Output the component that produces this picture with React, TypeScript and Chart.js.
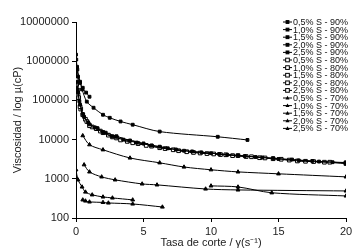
import React, { useEffect, useRef } from "react";
import { Chart, registerables } from "chart.js";

Chart.register(...registerables);

const seriesLabels = [
  "0,5% S - 90%", "1,0% S - 90%", "1,5% S - 90%", "2,0% S - 90%", "2,5% S - 90%",
  "0,5% S - 80%", "1,0% S - 80%", "1,5% S - 80%", "2,0% S - 80%", "2,5% S - 80%",
  "0,5% S - 70%", "1,0% S - 70%", "1,5% S - 70%", "2,0% S - 70%", "2,5% S - 70%",
];

// shear rate (x) and viscosity (y) per series
const s90_05x = [0, 0.02, 0.08, 0.15, 0.3, 0.5, 0.75, 1.0];
const s90_05y = [1470000, 1100000, 720000, 405000, 280000, 210000, 158000, 124000];

const s90_10x = [0.1, 0.3, 0.45, 0.8, 1.3, 2.0, 2.5, 3.3, 4.2, 6.2, 10.5, 12.7];
const s90_10y = [610000, 300000, 190000, 93000, 65000, 43000, 36000, 29000, 24000, 16000, 11800, 9800];

const s90_15x = [0.05, 0.15, 0.3, 0.6, 1.0, 1.6, 2.2, 3.0, 4.0, 5.0, 6.2, 7.4, 8.6, 10.0, 11.2, 12.5, 13.8, 15.0, 16.5, 18.0, 20.0];
const s90_15y = [300000, 160000, 78000, 38000, 24500, 19500, 15000, 12200, 9500, 8000, 6600, 5600, 5000, 4500, 4100, 3800, 3500, 3200, 2950, 2750, 2600];

const s90_20x = [0.1, 0.25, 0.5, 0.9, 1.4, 2.0, 2.7, 3.5, 4.5, 5.6, 6.8, 8.0, 9.3, 10.6, 12.0, 13.3, 14.6, 16.0, 17.5, 19.0, 20.0];
const s90_20y = [190000, 95000, 45000, 27500, 20500, 15500, 12000, 10000, 8400, 7100, 6000, 5200, 4700, 4300, 3950, 3600, 3350, 3100, 2850, 2650, 2500];

const s90_25x: number[] = [];
const s90_25y: number[] = [];

const s80_05x = [0.02, 0.1, 0.2, 0.3, 0.5, 0.8, 1.0, 1.5, 2.0, 2.7, 3.3, 4.2, 5.2, 6.2, 7.2, 8.2, 9.2, 10.2, 11.1, 12.0, 13.0, 14.0, 15.2, 16.4, 17.6, 18.8, 20.0];
const s80_05y = [340000, 186000, 117000, 69000, 43000, 29000, 22600, 19000, 15000, 11700, 9800, 8300, 7100, 6200, 5500, 4900, 4550, 4300, 4100, 3900, 3650, 3400, 3150, 2850, 2750, 2650, 2560];

const s80_10x = [0.05, 0.15, 0.35, 0.7, 1.2, 1.8, 2.4, 3.0, 3.8, 4.6, 5.6, 6.6, 7.6, 8.7, 9.7, 10.7, 11.6, 12.6, 13.6, 14.6, 15.8, 17.0, 18.4, 20.0];
const s80_10y = [250000, 140000, 60000, 33000, 21000, 16500, 13000, 11000, 9000, 7900, 6800, 5900, 5200, 4700, 4400, 4150, 3900, 3700, 3450, 3250, 3000, 2800, 2650, 2450];

const s80_15x: number[] = [];
const s80_15y: number[] = [];
const s80_20x: number[] = [];
const s80_20y: number[] = [];
const s80_25x: number[] = [];
const s80_25y: number[] = [];

const s70_05x = [0.5, 1.0, 2.0, 4.0, 6.2, 8.0, 10.0, 12.0, 15.0, 20.0];
const s70_05y = [12600, 7400, 5500, 3400, 2560, 2000, 1700, 1500, 1340, 1120];

const s70_10x = [0.6, 1.0, 1.9, 2.9, 4.9, 6.0, 9.6, 12.0, 20.0];
const s70_10y = [2280, 1500, 1120, 940, 740, 700, 550, 520, 490];

const s70_15x = [10.0, 12.0, 14.5, 20.0];
const s70_15y = [660, 620, 440, 365];

const s70_20x = [0, 0.15, 0.45, 0.7, 1.2, 2.0, 2.7, 4.2];
const s70_20y = [1700, 940, 620, 460, 390, 345, 325, 290];

const s70_25x = [0.5, 0.7, 1.0, 2.0, 2.4, 4.2, 6.4];
const s70_25y = [290, 272, 257, 250, 242, 228, 191];

const seriesX = [s90_05x, s90_10x, s90_15x, s90_20x, s90_25x, s80_05x, s80_10x, s80_15x, s80_20x, s80_25x, s70_05x, s70_10x, s70_15x, s70_20x, s70_25x];
const seriesY = [s90_05y, s90_10y, s90_15y, s90_20y, s90_25y, s80_05y, s80_10y, s80_15y, s80_20y, s80_25y, s70_05y, s70_10y, s70_15y, s70_20y, s70_25y];

const yTickValues = [100, 1000, 10000, 100000, 1000000, 10000000];
const xTicks = [0, 5, 10, 15, 20];

type Mk = { style: string; fill: string; r: number };
const markerFor = (i: number): Mk => {
  if (i < 5) return { style: "rect", fill: "#000", r: 2 };
  if (i < 10) return { style: "rect", fill: "#fff", r: 2.6 };
  return { style: "triangle", fill: "#000", r: 2.2 };
};

const legendPlugin = {
  id: "sideLegend",
  afterDraw(chart: any) {
    const ctx = chart.ctx;
    ctx.save();
    ctx.font = "9px 'Liberation Sans', Arial, sans-serif";
    ctx.textBaseline = "middle";
    ctx.textAlign = "left";
    chart.data.datasets.forEach((ds: any, i: number) => {
      const y = 22 + i * 7.6;
      const mk = markerFor(i);
      ctx.strokeStyle = "#000";
      ctx.lineWidth = 1;
      ctx.beginPath();
      ctx.moveTo(283, y);
      ctx.lineTo(292, y);
      ctx.stroke();
      ctx.fillStyle = mk.fill;
      if (mk.style === "rect") {
        const s = mk.r * Math.SQRT1_2;
        ctx.fillRect(287.5 - s, y - s, 2 * s, 2 * s);
        ctx.strokeRect(287.5 - s, y - s, 2 * s, 2 * s);
      } else {
        ctx.beginPath();
        ctx.moveTo(287.5, y - 2.2);
        ctx.lineTo(289.5, y + 1.5);
        ctx.lineTo(285.5, y + 1.5);
        ctx.closePath();
        ctx.fill();
      }
      ctx.fillStyle = "#111";
      ctx.fillText(ds.label, 293, y + 0.5);
    });
    ctx.restore();
  },
};

export default function App() {
  const ref = useRef<HTMLCanvasElement>(null);
  useEffect(() => {
    if (!ref.current) return;
    const datasets = seriesLabels.map((label, i) => {
      const mk = markerFor(i);
      return {
        label,
        data: seriesX[i].map((x, k) => ({ x, y: seriesY[i][k] })),
        showLine: true,
        borderColor: "#000",
        borderWidth: 1,
        pointStyle: mk.style,
        pointRadius: mk.r,
        pointBackgroundColor: mk.fill,
        pointBorderColor: "#000",
        pointBorderWidth: 1,
        tension: 0.3,
      };
    });
    const chart = new Chart(ref.current, {
      type: "scatter",
      data: { datasets },
      plugins: [legendPlugin],
      options: {
        animation: false,
        responsive: false,
        layout: { padding: { top: 22, right: 14, left: 0, bottom: 0 } },
        plugins: { legend: { display: false }, tooltip: { enabled: false } },
        scales: {
          x: {
            type: "linear",
            min: 0,
            max: 20,
            afterBuildTicks: (s: any) => { s.ticks = xTicks.map((v) => ({ value: v })); },
            afterFit: (s: any) => { s.height = 34; },
            grid: { drawOnChartArea: false, drawTicks: true, tickLength: 4, color: "#000" },
            border: { display: true, color: "#000", width: 1 },
            ticks: { color: "#222", padding: 3, font: { family: "'Liberation Sans', Arial, sans-serif", size: 11 } },
            title: {
              display: true,
              text: "Tasa de corte / γ(s⁻¹)",
              color: "#222",
              padding: { top: 0, bottom: 2 },
              font: { family: "'Liberation Sans', Arial, sans-serif", size: 11 },
            },
          },
          y: {
            type: "logarithmic",
            min: 100,
            max: 10000000,
            afterBuildTicks: (s: any) => { s.ticks = yTickValues.map((v) => ({ value: v })); },
            afterFit: (s: any) => { s.width = 76; },
            grid: { drawOnChartArea: false, drawTicks: true, tickLength: 4, color: "#000" },
            border: { display: true, color: "#000", width: 1 },
            ticks: {
              color: "#222",
              padding: 3,
              font: { family: "'Liberation Sans', Arial, sans-serif", size: 11 },
              callback: (v: any) => Number(v).toFixed(0),
            },
            title: {
              display: true,
              text: "Viscosidad / log µ(cP)",
              color: "#222",
              padding: { top: 11, bottom: 0 },
              font: { family: "'Liberation Sans', Arial, sans-serif", size: 11 },
            },
          },
        },
      } as any,
    });
    return () => chart.destroy();
  }, []);
  return (
    <div style={{ position: "fixed", left: 0, top: 0, width: 360, height: 252, background: "#fff" }}>
      <canvas ref={ref} width={360} height={252} />
    </div>
  );
}
